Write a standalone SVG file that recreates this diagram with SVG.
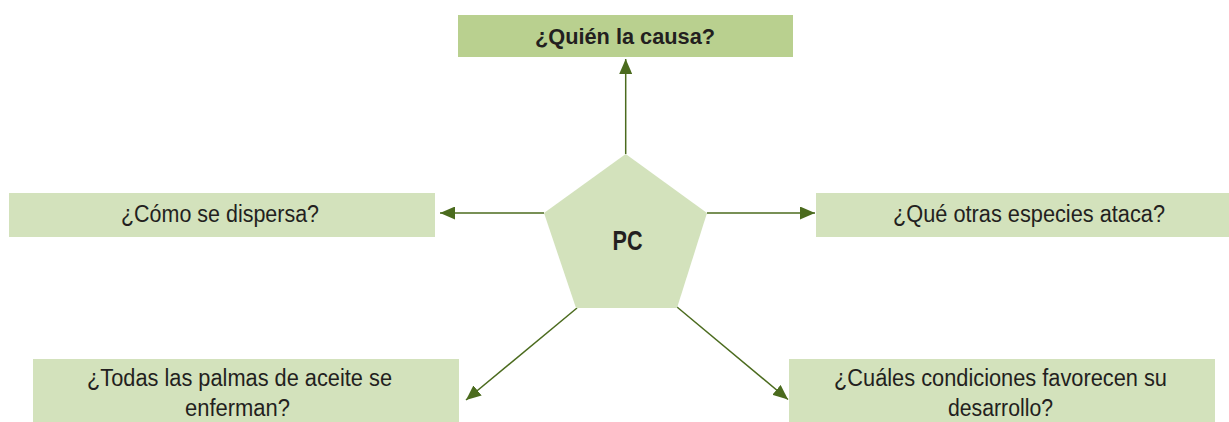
<svg xmlns="http://www.w3.org/2000/svg" width="1229" height="422" viewBox="0 0 1229 422">
<style>
.box{fill:#d3e2bc}
.top{fill:#b9d08f}
.t{font-family:"Liberation Sans",Arial,sans-serif;font-size:23px;fill:#231f20;text-anchor:middle}
.b{font-family:"Liberation Sans",Arial,sans-serif;font-weight:bold;fill:#231f20;text-anchor:middle}
.c{fill:none;stroke:#4b6b1e;stroke-width:1.5}
</style>
<defs>
<marker id="ah" markerUnits="userSpaceOnUse" markerWidth="16" markerHeight="13" refX="15" refY="6.5" orient="auto">
<path d="M0,0 L15,6.5 L0,13 z" fill="#4b6b1e"/>
</marker>
</defs>
<g id="connectors">
<path class="c" d="M625.7,154 L625.7,59" marker-end="url(#ah)"/>
<path class="c" d="M544,213 L440,213" marker-end="url(#ah)"/>
<path class="c" d="M707,213 L815,213" marker-end="url(#ah)"/>
<path class="c" d="M577,308 L466,400" marker-end="url(#ah)"/>
<path class="c" d="M677,307 L788,399.5" marker-end="url(#ah)"/>
</g>
<g id="node-top">
<rect class="top" x="458" y="15" width="335" height="42"/>
<text class="b" x="625" y="43.5" font-size="22" textLength="180" lengthAdjust="spacingAndGlyphs">¿Quién la causa?</text>
</g>
<g id="node-pc">
<polygon class="box" points="625.7,154 707,213 677,308 576,308 544,213"/>
<text class="b" x="627.5" y="250" font-size="28" textLength="30" lengthAdjust="spacingAndGlyphs">PC</text>
</g>
<g id="node-left">
<rect class="box" x="9" y="193" width="426" height="44"/>
<text class="t" x="220" y="222" textLength="198" lengthAdjust="spacingAndGlyphs">¿Cómo se dispersa?</text>
</g>
<g id="node-right">
<rect class="box" x="816" y="193" width="413" height="44"/>
<text class="t" x="1029" y="222" textLength="272" lengthAdjust="spacingAndGlyphs">¿Qué otras especies ataca?</text>
</g>
<g id="node-bottom-left">
<rect class="box" x="33" y="359" width="426" height="63"/>
<text class="t" x="239.5" y="386" textLength="305" lengthAdjust="spacingAndGlyphs">¿Todas las palmas de aceite se</text>
<text class="t" x="237.5" y="416" textLength="105" lengthAdjust="spacingAndGlyphs">enferman?</text>
</g>
<g id="node-bottom-right">
<rect class="box" x="789" y="359" width="426" height="63"/>
<text class="t" x="1000.5" y="386" textLength="333" lengthAdjust="spacingAndGlyphs">¿Cuáles condiciones favorecen su</text>
<text class="t" x="1000.5" y="416" textLength="105" lengthAdjust="spacingAndGlyphs">desarrollo?</text>
</g>
</svg>
